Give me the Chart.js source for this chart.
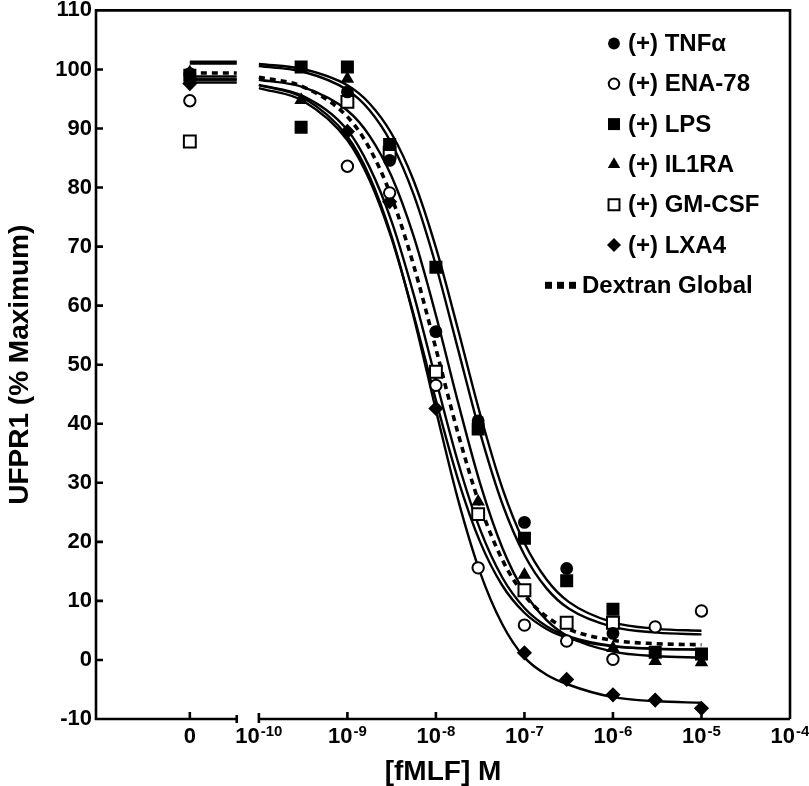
<!DOCTYPE html>
<html><head><meta charset="utf-8">
<script src="https://cdn.jsdelivr.net/npm/chart.js@4/dist/chart.umd.min.js"></script>
<style>html,body{margin:0;padding:0;background:#fff;}canvas{display:block;}</style>
</head><body>
<canvas id="c" width="809" height="786"></canvas>
<script>
// ---------- data ----------
const doses = [0, 3e-10, 1e-9, 3e-9, 1e-8, 3e-8, 1e-7, 3e-7, 1e-6, 3e-6, 1e-5];
const seriesNames = ['(+) TNF\u03B1', '(+) ENA-78', '(+) LPS', '(+) IL1RA', '(+) GM-CSF', '(+) LXA4'];
const globalName = 'Dextran Global';

const tnfaPts  = [99.3, null, 96.2, 84.6, 55.6, 40.5, 23.3, 15.5, 4.5, null, null];
const ena78Pts = [94.7, null, 83.6, 79.1, 46.5, 15.6, 5.9, 3.2, 0.1, 5.6, 8.3];
const lpsPts   = [99.0, 100.4, 100.4, 87.3, 66.5, 39.1, 20.6, 13.4, 8.6, 1.3, 1.0];
const lpsRepPts= [null, 90.2, null, null, null, null, null, null, null, null, null];
const il1raPts = [99.5, 94.8, 98.4, null, null, 26.8, 14.4, null, 2.0, -0.2, -0.4];
const gmcsfPts = [87.8, null, 94.5, 85.9, 48.8, 24.7, 11.8, 6.3, 6.3, null, null];
const lxa4Pts  = [97.6, null, 89.5, 77.6, 42.6, null, 1.2, -3.3, -5.9, -6.8, -8.2];

// fitted curves (log10 of concentration -> % max)
const curveLogX = [-10, -9.5, -9, -8.75, -8.5, -8.25, -8, -7.75, -7.5, -7.25, -7, -6.75, -6.5, -6, -5.5, -5];
const tnfaCurve  = [100.93, 100.07, 97.31, 94.24, 89.11, 81.11, 69.82, 55.96, 41.61, 29.11, 19.80, 13.62, 9.83, 6.36, 5.27, 4.94];
const lpsCurve   = [100.58, 99.61, 96.51, 93.08, 87.42, 78.75, 66.80, 52.60, 38.40, 26.45, 17.78, 12.12, 8.70, 5.59, 4.62, 4.33];
const il1raCurve = [98.26, 97.01, 93.05, 88.76, 81.86, 71.67, 58.38, 43.63, 29.87, 19.01, 11.48, 6.74, 3.93, 1.41, 0.63, 0.40];
const globalCurve= [98.69, 97.06, 91.98, 86.64, 78.34, 66.75, 52.71, 38.36, 26.05, 16.96, 10.97, 7.32, 5.19, 3.32, 2.75, 2.57];
const gmcsfCurve = [97.38, 95.48, 89.74, 83.46, 74.24, 61.82, 47.45, 33.48, 22.06, 13.96, 8.79, 5.70, 3.98, 2.36, 1.90, 1.76];
const ena78Curve = [96.84, 94.65, 88.00, 81.27, 71.33, 58.37, 43.97, 30.55, 19.95, 12.61, 7.99, 5.24, 3.67, 2.30, 1.88, 1.75];
const lxa4Curve  = [97.36, 95.22, 88.65, 81.88, 71.69, 58.02, 42.31, 27.15, 14.79, 6.04, 0.43, -2.5, -4.2, -6.3, -7.0, -7.25];
// top plateaus (drawn over the "0" segment)
const tnfaTop = 101.3, lpsTop = 101.0, il1raTop = 98.8, globalTop = 99.4, gmcsfTop = 98.3, ena78Top = 97.8, lxa4Top = 98.3;

const yTicks = [-10, 0, 10, 20, 30, 40, 50, 60, 70, 80, 90, 100, 110];
const xTickExps = [-10, -9, -8, -7, -6, -5, -4];
const zeroLabel = '0';
const xTitle = '[fMLF] M';
const yTitle = 'UFPR1 (% Maximum)';

// ---------- layout constants ----------
const XMIN = -11.84, XMAX = -4;
const ZERO_X = -10.78, BREAK_X = -10.25;
const FONT = '"Liberation Sans", Arial, sans-serif';

function doseX(d){ return d === 0 ? ZERO_X : Math.log10(d); }
function pts(vals){ const out=[]; vals.forEach((v,i)=>{ if(v!==null) out.push({x:doseX(doses[i]), y:v}); }); return out; }
function curve(top, vals){
  const out=[{x:ZERO_X,y:top},{x:BREAK_X,y:top},{x:-10.12,y:null}];
  curveLogX.forEach((x,i)=>out.push({x:x,y:vals[i]}));
  return out;
}

const markerStyles = [
  {pointStyle:'circle', radius:6.4, fill:'#000', border:0},
  {pointStyle:'circle', radius:5.7, fill:'#fff', border:2},
  {pointStyle:'rect', radius:9.2, fill:'#000', border:0},
  {pointStyle:'triangle', radius:7.8, fill:'#000', border:0},
  {pointStyle:'rect', radius:8.4, fill:'#fff', border:2},
  {pointStyle:'rectRot', radius:7.6, fill:'#000', border:0}
];
const pointSets = [tnfaPts, ena78Pts, lpsPts, il1raPts, gmcsfPts, lxa4Pts];

const datasets = [];
pointSets.forEach((p,i)=>{
  const m = markerStyles[i];
  datasets.push({type:'scatter', label:seriesNames[i], data:pts(p), showLine:false, order:0,
    pointStyle:m.pointStyle, pointRadius:m.radius, pointBackgroundColor:m.fill,
    pointBorderColor:'#000', pointBorderWidth:m.border});
});
datasets.push({type:'scatter', label:seriesNames[2]+' rep', data:pts(lpsRepPts), showLine:false, order:0,
  pointStyle:'rect', pointRadius:9.2, pointBackgroundColor:'#000', pointBorderColor:'#000', pointBorderWidth:0});

const curves = [[tnfaTop,tnfaCurve],[ena78Top,ena78Curve],[lpsTop,lpsCurve],[il1raTop,il1raCurve],[gmcsfTop,gmcsfCurve],[lxa4Top,lxa4Curve]];
curves.forEach((c,i)=>{
  datasets.push({type:'line', label:seriesNames[i]+' fit', data:curve(c[0],c[1]), order:2,
    borderColor:'#000', borderWidth:2.4, pointRadius:0, fill:false, spanGaps:false,
    cubicInterpolationMode:'monotone'});
});
datasets.push({type:'line', label:globalName, data:curve(globalTop, globalCurve), order:1,
  borderColor:'#000', borderWidth:3.6, borderDash:[6,5], pointRadius:0, fill:false, spanGaps:false,
  cubicInterpolationMode:'monotone'});

const axesPlugin = {
  id:'axesPlugin',
  beforeDatasetsDraw(chart){
    const ctx = chart.ctx, xs = chart.scales.x, ys = chart.scales.y;
    const L = chart.chartArea.left, R = chart.chartArea.right, T = chart.chartArea.top, B = chart.chartArea.bottom;
    ctx.save();
    ctx.strokeStyle = '#000'; ctx.lineWidth = 2.6; ctx.lineCap = 'butt';
    const bx = xs.getPixelForValue(BREAK_X), sx = xs.getPixelForValue(-10);
    ctx.beginPath();
    ctx.moveTo(L, B+1.3); ctx.lineTo(L, T-1.3);
    ctx.moveTo(L-1.3, T); ctx.lineTo(R+1.3, T);
    ctx.moveTo(R, T); ctx.lineTo(R, B);
    ctx.moveTo(L, B); ctx.lineTo(bx, B);
    ctx.moveTo(sx, B); ctx.lineTo(R, B);
    yTicks.forEach(v=>{ const py = ys.getPixelForValue(v); ctx.moveTo(L, py); ctx.lineTo(L+7, py); });
    const zx = xs.getPixelForValue(ZERO_X);
    ctx.moveTo(zx, B); ctx.lineTo(zx, B-7);
    ctx.moveTo(bx, B+4); ctx.lineTo(bx, B-4);
    xTickExps.forEach(e=>{ const px = xs.getPixelForValue(e);
      if (e === -10) { ctx.moveTo(px, B+4); ctx.lineTo(px, B-6); }
      else { ctx.moveTo(px, B); ctx.lineTo(px, B-7); } });
    ctx.stroke();
    ctx.restore();
  },
  afterDraw(chart){
    const ctx = chart.ctx, xs = chart.scales.x;
    ctx.save();
    ctx.fillStyle = '#000';
    const big = 'bold 22px ' + FONT, small = 'bold 15px ' + FONT;
    ctx.textBaseline = 'alphabetic';
    ctx.font = big; ctx.textAlign = 'center';
    ctx.fillText(zeroLabel, xs.getPixelForValue(ZERO_X), 743);
    ctx.textAlign = 'left';
    xTickExps.forEach(e=>{
      const px = xs.getPixelForValue(e);
      ctx.font = big; const w1 = ctx.measureText('10').width;
      ctx.font = small; const sup = String(e); const w2 = ctx.measureText(sup).width;
      const start = px - (w1 + w2 + 1)/2;
      ctx.font = big; ctx.fillText('10', start, 743);
      ctx.font = small; ctx.fillText(sup, start + w1 + 1, 736);
    });
    // legend
    const lx = 614, tx = 628, y0 = 43.5, dy = 40.3;
    const lfont = 'bold 24px ' + FONT;
    ctx.textBaseline = 'middle'; ctx.textAlign = 'left'; ctx.font = lfont;
    seriesNames.forEach((n,i)=>{
      const m = markerStyles[i], y = y0 + i*dy;
      ctx.fillStyle = m.fill; ctx.strokeStyle = '#000'; ctx.lineWidth = m.border;
      Chart.helpers.drawPoint(ctx, {pointStyle:m.pointStyle, radius:m.radius*0.92, rotation:0, borderWidth:m.border}, lx, y);
      ctx.fillStyle = '#000';
      ctx.fillText(n, tx, y + 1);
    });
    const gy = y0 + 6*dy;
    ctx.fillStyle = '#000';
    [545, 557, 569].forEach(x=>ctx.fillRect(x, gy-3.5, 7, 7));
    ctx.fillText(globalName, 582, gy + 1);
    ctx.restore();
  }
};

new Chart(document.getElementById('c'), {
  data:{datasets:datasets},
  options:{
    responsive:false, animation:false, devicePixelRatio:1,
    layout:{padding:{left:0, right:19, top:10, bottom:0}},
    plugins:{legend:{display:false}, tooltip:{enabled:false}},
    scales:{
      x:{type:'linear', min:XMIN, max:XMAX,
        grid:{display:false, drawTicks:false}, border:{display:false},
        ticks:{display:false},
        title:{display:true, text:xTitle, color:'#000', font:{family:FONT, weight:'bold', size:28, lineHeight:1}, padding:{top:0, bottom:0}},
        afterFit(s){ s.height = 67; s.paddingLeft = 0; s.paddingRight = 0; }},
      y:{type:'linear', min:-10, max:110,
        grid:{display:false, drawTicks:false}, border:{display:false},
        afterBuildTicks(s){ s.ticks = yTicks.map(v=>({value:v})); },
        ticks:{color:'#000', padding:4, font:{family:FONT, weight:'bold', size:22}},
        title:{display:true, text:yTitle, color:'#000', font:{family:FONT, weight:'bold', size:28, lineHeight:1}, padding:{top:6, bottom:0}},
        afterFit(s){ s.width = 96; s.paddingTop = 0; s.paddingBottom = 0; }}
    }
  },
  plugins:[axesPlugin]
});
</script>
</body></html>
